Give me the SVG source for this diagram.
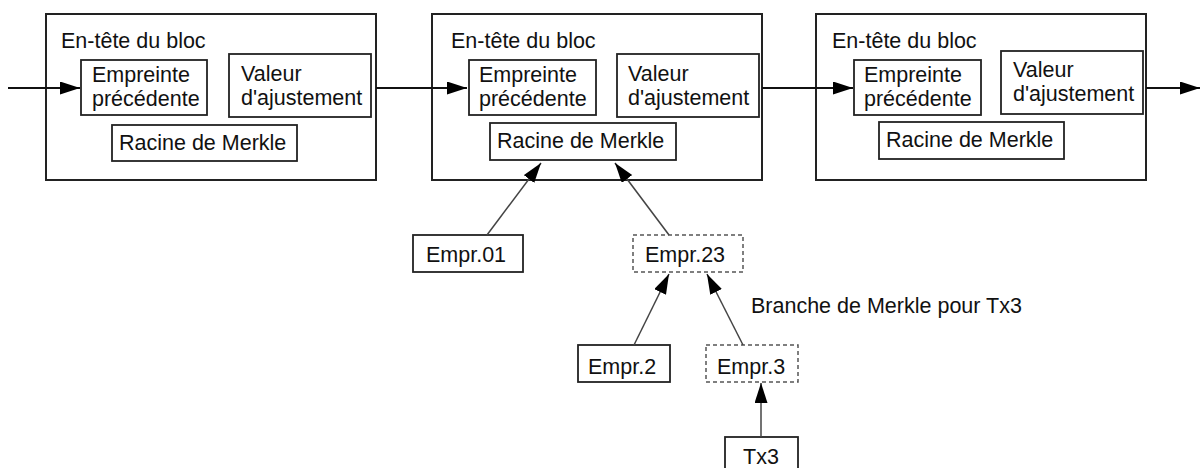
<svg xmlns="http://www.w3.org/2000/svg" width="1201" height="468" viewBox="0 0 1201 468">
<style>
text{font-family:"Liberation Sans",Arial,sans-serif;font-size:21.5px;fill:#111}
.blk{fill:#fff;stroke:#222;stroke-width:2}
.box{fill:#fff;stroke:#222;stroke-width:1.8}
.dash{fill:#fff;stroke:#555;stroke-width:1.5;stroke-dasharray:4 3}
.h{stroke:#111;stroke-width:2;fill:none}
.t{stroke:#444;stroke-width:1.5;fill:none}
</style>
<defs>
<marker id="ah" markerUnits="userSpaceOnUse" markerWidth="20" markerHeight="14" refX="20" refY="6.5" orient="auto">
<path d="M0,0 L20,6.5 L0,13 z" fill="#000"/>
</marker>
</defs>
<g id="block1">
<rect class="blk" x="46" y="14" width="330" height="166"/>
<text x="61" y="48">En-tête du bloc</text>
<rect class="box" x="81" y="60" width="126" height="55"/>
<text x="92" y="82">Empreinte</text>
<text x="92" y="106">précédente</text>
<rect class="box" x="229" y="54" width="142" height="63"/>
<text x="241" y="81">Valeur</text>
<text x="241" y="105">d'ajustement</text>
<rect class="box" x="112" y="125" width="185" height="36"/>
<text x="119" y="150">Racine de Merkle</text>
</g>
<g id="block2">
<rect class="blk" x="432" y="14" width="330" height="166"/>
<text x="451" y="48">En-tête du bloc</text>
<rect class="box" x="469" y="60" width="127" height="55"/>
<text x="479" y="82">Empreinte</text>
<text x="479" y="106">précédente</text>
<rect class="box" x="617" y="54" width="142" height="63"/>
<text x="628" y="81">Valeur</text>
<text x="628" y="105">d'ajustement</text>
<rect class="box" x="490" y="123" width="186" height="37"/>
<text x="497" y="148">Racine de Merkle</text>
</g>
<g id="block3">
<rect class="blk" x="816" y="14" width="330" height="166"/>
<text x="832" y="48">En-tête du bloc</text>
<rect class="box" x="854" y="60" width="127" height="55"/>
<text x="864" y="82">Empreinte</text>
<text x="864" y="106">précédente</text>
<rect class="box" x="1001" y="51" width="142" height="63"/>
<text x="1013" y="77">Valeur</text>
<text x="1013" y="101">d'ajustement</text>
<rect class="box" x="879" y="122" width="185" height="37"/>
<text x="886" y="147">Racine de Merkle</text>
</g>
<g id="empr01">
<rect class="box" x="413" y="235" width="110" height="37"/>
<text x="426" y="262">Empr.01</text>
</g>
<g id="empr23">
<rect class="dash" x="633" y="235" width="110" height="37"/>
<text x="645" y="262">Empr.23</text>
</g>
<g id="empr2">
<rect class="box" x="578" y="345" width="92" height="37"/>
<text x="588" y="374">Empr.2</text>
</g>
<g id="empr3">
<rect class="dash" x="706" y="345" width="92" height="37"/>
<text x="717" y="374">Empr.3</text>
</g>
<g id="tx3">
<rect class="box" x="725" y="437" width="73" height="40"/>
<text x="743" y="464">Tx3</text>
</g>
<g id="label">
<text x="751" y="313">Branche de Merkle pour Tx3</text>
</g>
<g id="connectors">
<line class="h" x1="8" y1="88" x2="80" y2="88" marker-end="url(#ah)"/>
<line class="h" x1="376" y1="88" x2="467" y2="88" marker-end="url(#ah)"/>
<line class="h" x1="762" y1="88" x2="853" y2="88" marker-end="url(#ah)"/>
<line class="h" x1="1146" y1="88" x2="1200" y2="88" marker-end="url(#ah)"/>
<line class="t" x1="487" y1="235" x2="541" y2="163" marker-end="url(#ah)"/>
<line class="t" x1="669" y1="235" x2="615" y2="163" marker-end="url(#ah)"/>
<line class="t" x1="634" y1="345" x2="669" y2="274" marker-end="url(#ah)"/>
<line class="t" x1="743" y1="345" x2="707" y2="274" marker-end="url(#ah)"/>
<line class="t" x1="761" y1="437" x2="761" y2="383" marker-end="url(#ah)"/>
</g>
</svg>
